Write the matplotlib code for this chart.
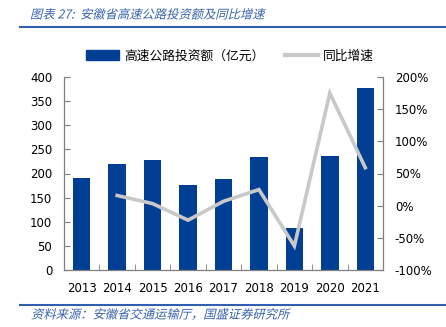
import matplotlib
matplotlib.use("Agg")
import matplotlib.pyplot as plt
from matplotlib.font_manager import FontProperties
from matplotlib.textpath import TextPath
from matplotlib.patches import PathPatch, Patch
from matplotlib.lines import Line2D
from matplotlib.transforms import Affine2D
from matplotlib.ticker import FuncFormatter

plt.rcParams['font.family'] = ['DejaVu Sans', 'Noto Sans CJK SC']

years = ["2013", "2014", "2015", "2016", "2017", "2018", "2019", "2020", "2021"]
invest = [190, 220, 227, 176, 188, 235, 88, 237, 377]
growth = [None, 15.8, 3.2, -22.5, 6.8, 25.0, -62.6, 175.0, 59.1]

bar_color = "#003f94"
line_color = "#c8c8c8"
blue_text = "#3762ad"
axis_gray = "#7f7f7f"

W, H = 446, 327
fig = plt.figure(figsize=(W / 100, H / 100), dpi=100)
ax = fig.add_axes([64 / W, 1 - 270 / H, (383 - 64) / W, (270 - 77) / H])
ax2 = ax.twinx()

x = list(range(len(years)))
ax.bar(x, invest, width=0.49, color=bar_color, zorder=2)
gx = [i for i, g in zip(x, growth) if g is not None]
gy = [g for g in growth if g is not None]
ax2.plot(gx, gy, color=line_color, lw=2.6, solid_joinstyle='miter', zorder=3)

ax.set_xlim(-0.5, len(years) - 0.5)
ax.set_ylim(0, 400)
ax.set_yticks(range(0, 401, 50))
ax2.set_ylim(-100, 200)
ax2.set_yticks(range(-100, 201, 50))
ax2.yaxis.set_major_formatter(FuncFormatter(lambda v, p: f"{int(v)}%"))

lab = 8.5
ax.set_xticks(x)
ax.set_xticklabels(years)
ax.set_xticks([i + 0.5 for i in x[:-1]], minor=True)
ax.tick_params(axis='x', which='major', length=0, pad=9, labelsize=lab)
ax.tick_params(axis='x', which='minor', direction='in', length=4, color=axis_gray)
ax.tick_params(axis='y', direction='in', length=4, color=axis_gray, pad=8.5, labelsize=lab)
ax2.tick_params(axis='y', direction='in', length=4, color=axis_gray, pad=8.5, labelsize=lab)

for a in (ax, ax2):
    a.spines['top'].set_visible(False)
    for s in ('left', 'right', 'bottom'):
        a.spines[s].set_color(axis_gray)
        a.spines[s].set_linewidth(0.8)
ax.set_zorder(ax2.get_zorder() - 1)
ax2.patch.set_visible(False)
ax.patch.set_visible(False)

# legend above the plot
cjk = FontProperties(family='Noto Sans CJK SC', size=9.2)
handles = [Patch(facecolor=bar_color, edgecolor=bar_color),
           Line2D([], [], color=line_color, lw=3)]
fig.legend(handles, ["高速公路投资额（亿元）", "同比增速"], loc='center',
           bbox_to_anchor=(230 / W, 1 - 56 / H), ncol=2, frameon=False, prop=cjk,
           handlelength=2.6, handleheight=0.8, columnspacing=1.6, handletextpad=0.4)


def slanted_text(s, px, baseline, size):
    # draws text as a sheared path so CJK glyphs look italic
    tp = TextPath((0, 0), s, size=size, prop=FontProperties(family=['Noto Sans CJK SC', 'DejaVu Sans']))
    tr = Affine2D().skew_deg(14, 0).translate(px, H - baseline)
    fig.add_artist(PathPatch(tp, transform=tr, facecolor=blue_text, edgecolor='none'))


slanted_text("图表 27:  安徽省高速公路投资额及同比增速", 30, 18.5, 12.3)
slanted_text("资料来源：安徽省交通运输厅，国盛证券研究所", 31, 318.5, 12.3)

fig.add_artist(Line2D([20 / W, 1], [1 - 27 / H] * 2, color="#2f5fae", lw=1.5))
fig.add_artist(Line2D([20 / W, 1], [1 - 305 / H] * 2, color="#2f5fae", lw=1.5))

fig.savefig("out.png", dpi=100)
